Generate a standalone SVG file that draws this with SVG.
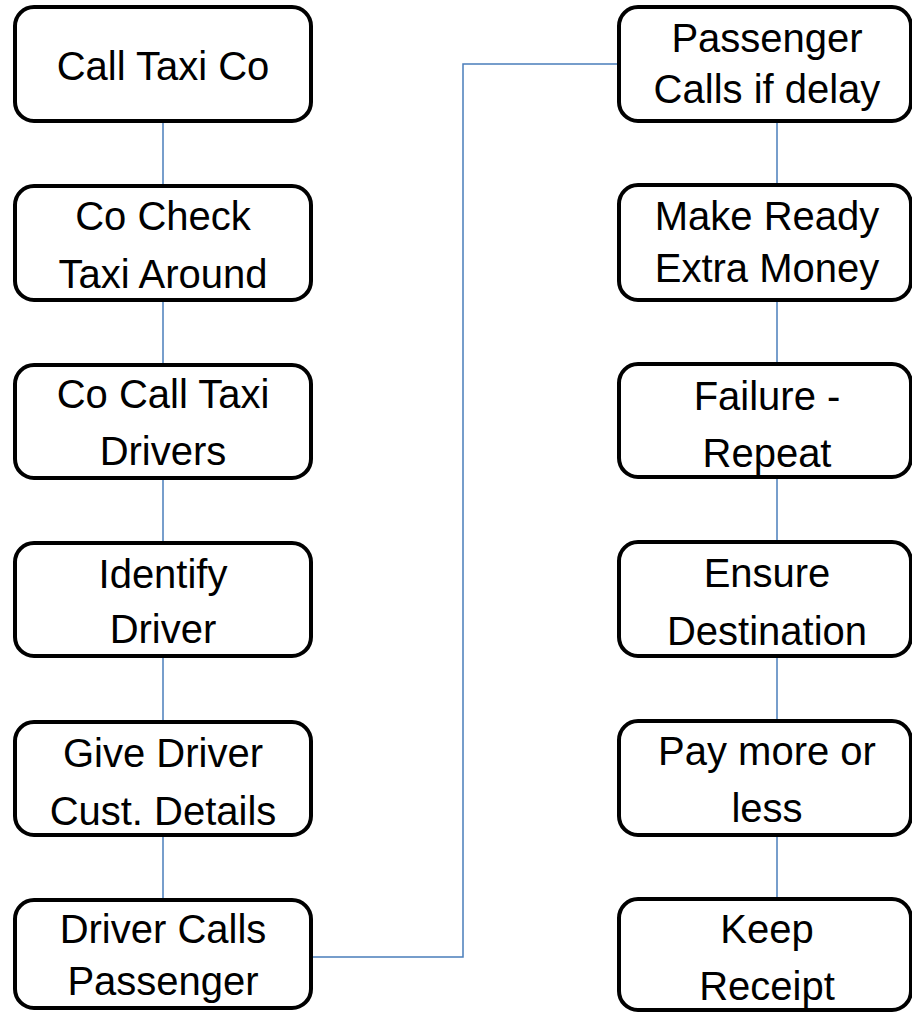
<svg xmlns="http://www.w3.org/2000/svg" width="912" height="1013" viewBox="0 0 912 1013">
<style>
.box{fill:#fff;stroke:#000;stroke-width:4}
.t{font-family:"Liberation Sans",Arial,sans-serif;font-size:40px;fill:#000;text-anchor:middle}
.c{fill:none;stroke:#4A7EBB;stroke-width:1.5}
</style>
<rect width="912" height="1013" fill="#fff"/>
<g id="connectors">
<line class="c" x1="163" y1="123" x2="163" y2="184"/>
<line class="c" x1="163" y1="302" x2="163" y2="363"/>
<line class="c" x1="163" y1="480" x2="163" y2="541"/>
<line class="c" x1="163" y1="658" x2="163" y2="720"/>
<line class="c" x1="163" y1="837" x2="163" y2="898"/>
<polyline class="c" points="313,957 463,957 463,64 617,64"/>
<line class="c" x1="777" y1="123" x2="777" y2="183"/>
<line class="c" x1="777" y1="302" x2="777" y2="362"/>
<line class="c" x1="777" y1="479" x2="777" y2="540"/>
<line class="c" x1="777" y1="658" x2="777" y2="719"/>
<line class="c" x1="777" y1="837" x2="777" y2="897"/>
</g>
<g id="n1"><rect class="box" x="15" y="7" width="296" height="114" rx="19"/><text class="t" x="163" y="80">Call Taxi Co</text></g>
<g id="n2"><rect class="box" x="15" y="186" width="296" height="114" rx="19"/><text class="t" x="163" y="230">Co Check</text><text class="t" x="163" y="288">Taxi Around</text></g>
<g id="n3"><rect class="box" x="15" y="365" width="296" height="113" rx="19"/><text class="t" x="163" y="408">Co Call Taxi</text><text class="t" x="163" y="465">Drivers</text></g>
<g id="n4"><rect class="box" x="15" y="543" width="296" height="113" rx="19"/><text class="t" x="163" y="588">Identify</text><text class="t" x="163" y="643">Driver</text></g>
<g id="n5"><rect class="box" x="15" y="722" width="296" height="113" rx="19"/><text class="t" x="163" y="767">Give Driver</text><text class="t" x="163" y="825">Cust. Details</text></g>
<g id="n6"><rect class="box" x="15" y="900" width="296" height="108" rx="19"/><text class="t" x="163" y="943">Driver Calls</text><text class="t" x="163" y="995">Passenger</text></g>
<g id="n7"><rect class="box" x="619" y="7" width="292" height="114" rx="19"/><text class="t" x="767" y="52">Passenger</text><text class="t" x="767" y="103">Calls if delay</text></g>
<g id="n8"><rect class="box" x="619" y="185" width="292" height="115" rx="19"/><text class="t" x="767" y="230">Make Ready</text><text class="t" x="767" y="282">Extra Money</text></g>
<g id="n9"><rect class="box" x="619" y="364" width="292" height="113" rx="19"/><text class="t" x="767" y="410">Failure -</text><text class="t" x="767" y="467">Repeat</text></g>
<g id="n10"><rect class="box" x="619" y="542" width="292" height="114" rx="19"/><text class="t" x="767" y="587">Ensure</text><text class="t" x="767" y="645">Destination</text></g>
<g id="n11"><rect class="box" x="619" y="721" width="292" height="114" rx="19"/><text class="t" x="767" y="765">Pay more or</text><text class="t" x="767" y="822">less</text></g>
<g id="n12"><rect class="box" x="619" y="899" width="292" height="111" rx="19"/><text class="t" x="767" y="943">Keep</text><text class="t" x="767" y="1000">Receipt</text></g>
</svg>
